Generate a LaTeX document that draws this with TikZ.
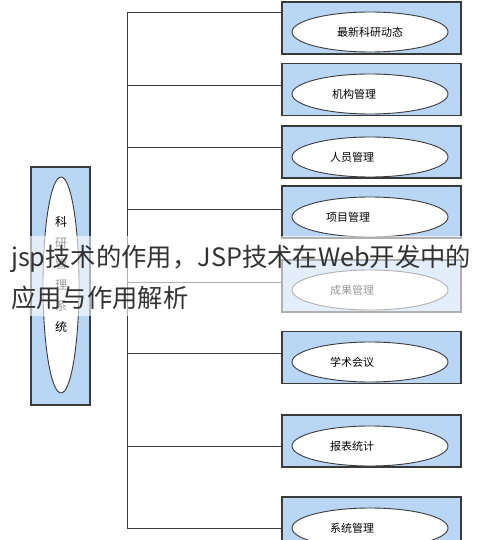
\documentclass[tikz,border=0pt]{standalone}
\usepackage{fontspec}
\newfontfamily\cjk{Noto Sans CJK SC}
\usetikzlibrary{shapes.geometric}
\definecolor{boxblue}{HTML}{B9D6F4}
\definecolor{edge}{HTML}{3A3A3A}
\definecolor{wmtext}{HTML}{333333}
\tikzset{
  modbox/.style={draw=edge, line width=1.1pt, fill=boxblue, minimum width=179pt, minimum height=52pt, inner sep=0pt, anchor=center},
  modell/.style={draw=edge, line width=0.9pt, fill=white, ellipse, minimum width=156pt, minimum height=40pt, inner sep=0pt},
  modtxt/.style={font=\cjk\fontsize{11}{12}\selectfont, text=black, inner sep=0pt},
  link/.style={draw=edge, line width=0.9pt},
}
\begin{document}
\begin{tikzpicture}[x=1pt,y=-1pt]
\useasboundingbox (0,0) rectangle (490,540);
\clip (0,0) rectangle (490,540);
\fill[white] (0,0) rectangle (490,540);
% left system box
\node[draw=edge, line width=1.1pt, fill=boxblue, minimum width=59pt, minimum height=238pt, inner sep=0pt] (sys) at (60.5,286) {};
\node[draw=edge, line width=0.9pt, fill=white, ellipse, minimum width=36pt, minimum height=216pt, inner sep=0pt] (sysell) at (61,285) {};
\foreach \c/\yy in {科/222,研/243,管/264,理/285,系/306,统/327}
  \node[modtxt, font=\cjk\fontsize{12}{12}\selectfont] at (61,\yy) {\c};
% trunk
\coordinate (ttop) at (127,12);
\coordinate (tbot) at (127,528);
\draw[link] (ttop) -- (tbot);
% module boxes
\foreach \i/\by/\ey/\tx/\ly/\lab in {
  1/28/32/370/12/最新科研动态,
  2/89.5/94/354/85/机构管理,
  3/152/157/352/147/人员管理,
  4/212/217/348/209/项目管理,
  5/286/290/352/282/成果管理,
  6/357.5/362/352/353/学术会议,
  7/441/446/352/446/报表统计,
  8/523/528/352/528/系统管理}{
  \node[modbox] (b\i) at (371.5,\by) {};
  \node[modell] (e\i) at (370,\ey) {};
  \node[modtxt] (t\i) at (\tx,\ey) {\lab};
  \coordinate (j\i) at (127,\ly);
  \draw[link] (j\i) -- (j\i -| b\i.west);
}
% watermark band and text
\fill[white, opacity=0.6] (8,236) rectangle (478,316);
\node[font=\cjk\fontsize{25.3}{30}\selectfont, text=wmtext, anchor=west, inner sep=0pt] (wm1) at (11,259) {jsp技术的作用，JSP技术在Web开发中的};
\node[font=\cjk\fontsize{25.3}{30}\selectfont, text=wmtext, anchor=west, inner sep=0pt] (wm2) at (11,298) {应用与作用解析};
\end{tikzpicture}
\end{document}
